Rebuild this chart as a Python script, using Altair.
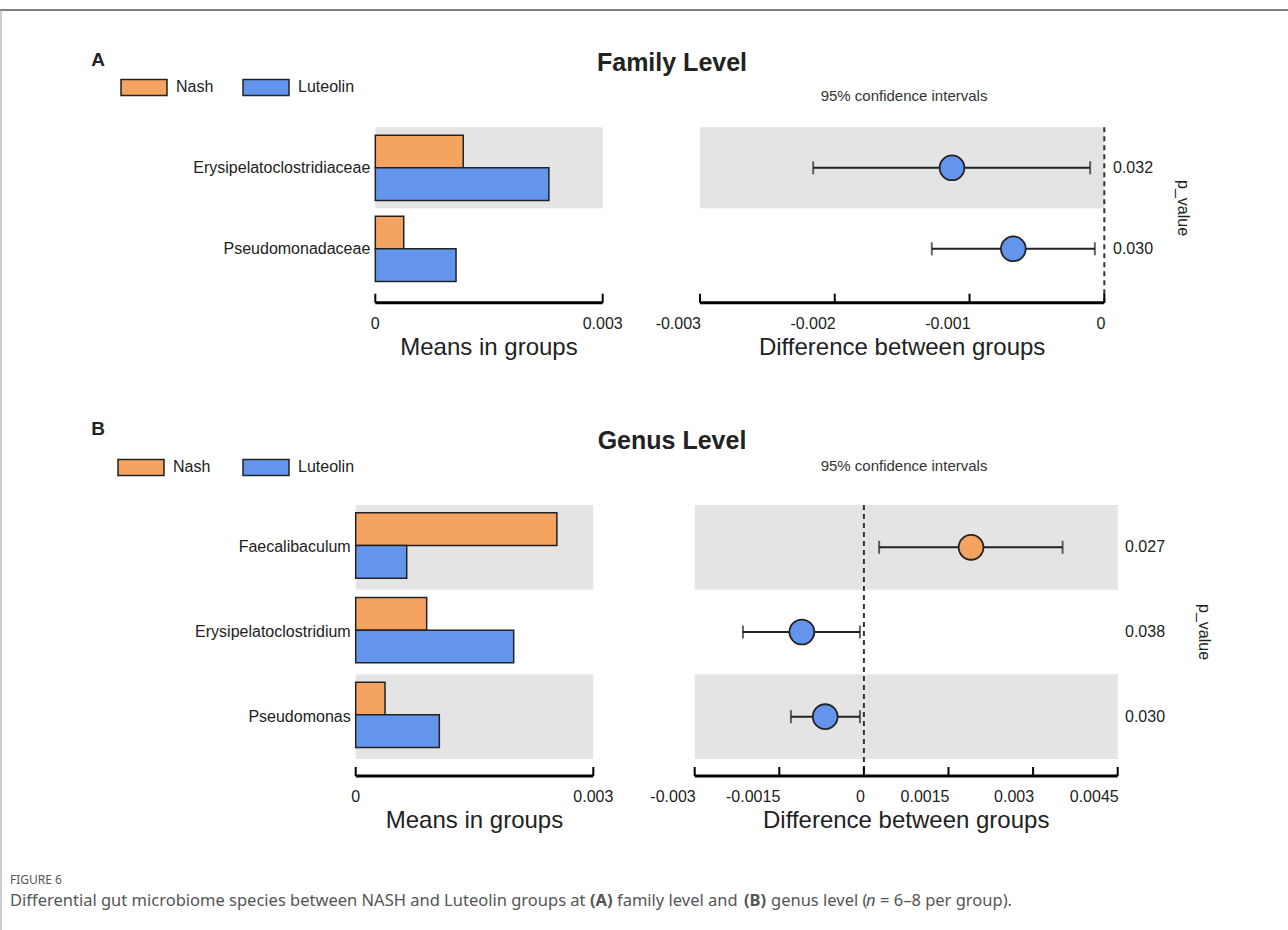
import altair as alt
import pandas as pd

# ---------------- data ----------------
GROUPS = ["Nash", "Luteolin"]
GROUP_COLORS = ["#F4A460", "#6495ED"]

# Family level
FAMILY_TAXA = ["Erysipelatoclostridiaceae", "Pseudomonadaceae"]
FAMILY_NASH = [0.00116, 0.000375]
FAMILY_LUTEOLIN = [0.00229, 0.001065]
FAMILY_DIFF = [-0.00113, -0.000675]
FAMILY_CI_LOW = [-0.00216, -0.00128]
FAMILY_CI_HIGH = [-0.000105, -0.00007]
FAMILY_P = ["0.032", "0.030"]
FAMILY_MEAN_TICKS = [0, 0.003]
FAMILY_DIFF_TICKS = [-0.003, -0.002, -0.001, 0]

# Genus level
GENUS_TAXA = ["Faecalibaculum", "Erysipelatoclostridium", "Pseudomonas"]
GENUS_NASH = [0.00254, 0.000896, 0.00037]
GENUS_LUTEOLIN = [0.000644, 0.001995, 0.001056]
GENUS_DIFF = [0.0019, -0.0011, -0.000686]
GENUS_CI_LOW = [0.00027, -0.002145, -0.001294]
GENUS_CI_HIGH = [0.003523, -0.00007, -0.00007]
GENUS_P = ["0.027", "0.038", "0.030"]
GENUS_MEAN_TICKS = [0, 0.003]
GENUS_DIFF_TICKS = [-0.003, -0.0015, 0, 0.0015, 0.003, 0.0045]

# ---------------- style / layout ----------------
W, H = 1288, 930
FONT = "Liberation Sans"
CAPTION_FONT = "Noto Sans"
INK = "#222222"
CAPTION_INK = "#555555"
BAND = "#e4e4e4"
RECT_PATH = "M-1,-0.348L1,-0.348L1,0.348L-1,0.348Z"

LAYOUT_A = dict(top=127.3, bottom=289.3, mx0=375.3, mx1=602.7, dx0=700.0, dx1=1104.3,
                axis_y=302.7, p_x=1113, pv_x=1183, pv_y=208, leg_x=120, leg_y=63, col_pad=26)
LAYOUT_B = dict(top=505.0, bottom=759.0, mx0=355.7, mx1=593.3, dx0=694.7, dx1=1117.7,
                axis_y=776.0, p_x=1125, pv_x=1204, pv_y=632, leg_x=117, leg_y=443, col_pad=29)


def fmt(v):
    return "%g" % v


def means_frame(taxa, nash, lut):
    rows = []
    for t, a, b in zip(taxa, nash, lut):
        rows.append({"taxon": t, "group": GROUPS[0], "mean": a})
        rows.append({"taxon": t, "group": GROUPS[1], "mean": b})
    return pd.DataFrame(rows)


def diff_frame(taxa, diff, lo, hi, p):
    return pd.DataFrame({
        "taxon": taxa, "diff": diff, "lo": lo, "hi": hi, "p": p,
        "higher": [GROUPS[0] if d > 0 else GROUPS[1] for d in diff],
        "shade": [i % 2 == 0 for i in range(len(taxa))],
    })


def note(text, x, y, size, weight="normal", align="center", angle=0, color=INK,
         style="normal", font=FONT):
    kw = dict(align=align, baseline="middle", fontSize=size, fontWeight=weight,
              color=color, font=font)
    if angle:
        kw["angle"] = angle
    if style != "normal":
        kw["fontStyle"] = style
    return alt.Chart(pd.DataFrame({"label": [text]})).mark_text(**kw).encode(
        x=alt.value(x), y=alt.value(y), text="label:N"
    )


def scale_axis(ticks, scale, axis_y, align, title, x_mid):
    """Bracket-style axis: thick baseline, inward ticks, labels and a title."""
    line = alt.Chart(pd.DataFrame({"lo": [ticks[0]], "hi": [ticks[-1]]})).mark_rule(
        color="black", strokeWidth=3
    ).encode(
        x=alt.X("lo:Q", scale=scale, axis=None), x2="hi:Q", y=alt.value(axis_y)
    )
    tick_df = pd.DataFrame({"tick": ticks, "label": [fmt(t) for t in ticks]})
    marks = alt.Chart(tick_df).mark_rule(color="black", strokeWidth=2).encode(
        x=alt.X("tick:Q", scale=scale, axis=None),
        y=alt.value(axis_y - 9), y2=alt.value(axis_y),
    )
    labels = alt.Chart(tick_df).mark_text(
        align=align, baseline="middle", fontSize=16, color=INK, font=FONT,
        dx=1 if align == "right" else 0,
    ).encode(
        x=alt.X("tick:Q", scale=scale, axis=None), y=alt.value(axis_y + 21), text="label:N"
    )
    name = note(title, x_mid, axis_y + 45, 24)
    return [line, marks, labels, name]


def panel(taxa, nash, lut, diff, lo, hi, pvals, mean_ticks, diff_ticks, L):
    means = means_frame(taxa, nash, lut)
    d = diff_frame(taxa, diff, lo, hi, pvals)
    shaded = d[d["shade"]]

    yscale = alt.Scale(domain=taxa, range=[L["top"], L["bottom"]], paddingInner=0, paddingOuter=0)
    cscale = alt.Scale(domain=GROUPS, range=GROUP_COLORS)
    mscale = alt.Scale(domain=[mean_ticks[0], mean_ticks[-1]], range=[L["mx0"], L["mx1"]],
                       nice=False, zero=False)
    dscale = alt.Scale(domain=[diff_ticks[0], diff_ticks[-1]], range=[L["dx0"], L["dx1"]],
                       nice=False, zero=False)
    y_plain = alt.Y("taxon:N", scale=yscale, axis=None)

    # ---- means in groups ----
    m_band = alt.Chart(shaded).mark_rect(color=BAND).encode(
        x=alt.XDatum(mean_ticks[0], scale=mscale, axis=None),
        x2=alt.X2Datum(mean_ticks[-1]),
        y=y_plain,
    )
    bars = alt.Chart(means).mark_bar(stroke=INK, strokeWidth=1.5, opacity=1).encode(
        x=alt.X("mean:Q", scale=mscale, axis=None),
        y=y_plain,
        yOffset=alt.YOffset("group:N", sort=GROUPS,
                            scale=alt.Scale(domain=GROUPS, paddingInner=0, paddingOuter=0.24)),
        color=alt.Color("group:N", scale=cscale, legend=alt.Legend(
            title=None, orient="none", legendX=L["leg_x"], legendY=L["leg_y"],
            direction="horizontal", columns=2, symbolType=RECT_PATH, symbolSize=2116,
            symbolStrokeColor=INK, symbolStrokeWidth=1.5, symbolOpacity=1,
            labelFontSize=16, labelColor=INK, labelOffset=8, labelFont=FONT,
            columnPadding=L["col_pad"], padding=0)),
    )
    taxon_labels = alt.Chart(d).mark_text(
        align="right", baseline="middle", fontSize=16, color=INK, font=FONT
    ).encode(x=alt.value(L["mx0"] - 5), y=y_plain, text="taxon:N")
    m_axis = scale_axis(mean_ticks, mscale, L["axis_y"], "center", "Means in groups",
                        (L["mx0"] + L["mx1"]) / 2)
    means_chart = alt.layer(m_band, bars, taxon_labels, *m_axis)

    # ---- difference between groups ----
    d_band = alt.Chart(shaded).mark_rect(color=BAND).encode(
        x=alt.XDatum(diff_ticks[0], scale=dscale, axis=None),
        x2=alt.X2Datum(diff_ticks[-1]),
        y=y_plain,
    )
    zero = alt.Chart(pd.DataFrame({"z": [0.0]})).mark_rule(
        color="#333333", strokeWidth=2, strokeDash=[5, 4]
    ).encode(
        x=alt.X("z:Q", scale=dscale, axis=None),
        y=alt.value(L["top"]), y2=alt.value(L["axis_y"]),
    )
    whisker = alt.Chart(d).mark_rule(color=INK, strokeWidth=2).encode(
        x=alt.X("lo:Q", scale=dscale, axis=None), x2="hi:Q", y=y_plain,
    )
    cap_lo = alt.Chart(d).mark_tick(color=INK, size=13, thickness=2, orient="vertical").encode(
        x=alt.X("lo:Q", scale=dscale, axis=None), y=y_plain,
    )
    cap_hi = alt.Chart(d).mark_tick(color=INK, size=13, thickness=2, orient="vertical").encode(
        x=alt.X("hi:Q", scale=dscale, axis=None), y=y_plain,
    )
    dots = alt.Chart(d).mark_circle(size=616, opacity=1, stroke=INK, strokeWidth=1.8).encode(
        x=alt.X("diff:Q", scale=dscale, axis=None),
        y=y_plain,
        color=alt.Color("higher:N", scale=cscale, legend=None),
    )
    pv = alt.Chart(d).mark_text(align="left", baseline="middle", fontSize=16, color=INK,
                                font=FONT).encode(
        x=alt.value(L["p_x"]), y=y_plain, text="p:N",
    )
    d_axis = scale_axis(diff_ticks, dscale, L["axis_y"], "right", "Difference between groups",
                        (L["dx0"] + L["dx1"]) / 2)
    diff_chart = alt.layer(d_band, zero, whisker, cap_lo, cap_hi, dots, pv, *d_axis)

    return alt.layer(means_chart, diff_chart).resolve_scale(x="independent")


panel_a = panel(FAMILY_TAXA, FAMILY_NASH, FAMILY_LUTEOLIN, FAMILY_DIFF, FAMILY_CI_LOW,
                FAMILY_CI_HIGH, FAMILY_P, FAMILY_MEAN_TICKS, FAMILY_DIFF_TICKS, LAYOUT_A)
panel_b = panel(GENUS_TAXA, GENUS_NASH, GENUS_LUTEOLIN, GENUS_DIFF, GENUS_CI_LOW,
                GENUS_CI_HIGH, GENUS_P, GENUS_MEAN_TICKS, GENUS_DIFF_TICKS, LAYOUT_B)

# figure frame
frame_top = alt.Chart(pd.DataFrame({"k": [0]})).mark_rule(color="#555555", strokeWidth=1.5).encode(
    x=alt.value(0), x2=alt.value(W), y=alt.value(10)
)
frame_left = alt.Chart(pd.DataFrame({"k": [0]})).mark_rule(color="#9a9a9a", strokeWidth=1).encode(
    x=alt.value(1), y=alt.value(10), y2=alt.value(H)
)

cap = dict(align="left", color=CAPTION_INK, font=CAPTION_FONT)
texts = [
    note("A", 98, 60, 19, weight="bold"),
    note("Family Level", 672, 63, 25, weight="bold"),
    note("95% confidence intervals", 904, 96, 15, color="#333333"),
    note("p_value", LAYOUT_A["pv_x"], LAYOUT_A["pv_y"], 16, angle=90),
    note("B", 98, 429, 19, weight="bold"),
    note("Genus Level", 672, 441, 25, weight="bold"),
    note("95% confidence intervals", 904, 466, 15, color="#333333"),
    note("p_value", LAYOUT_B["pv_x"], LAYOUT_B["pv_y"], 16, angle=90),
    note("FIGURE 6", 10, 880, 12, **cap),
    note("Differential gut microbiome species between NASH and Luteolin groups at", 10, 901, 16.5, **cap),
    note("(A)", 590, 901, 16.5, weight="bold", **cap),
    note("family level and", 617, 901, 16.5, **cap),
    note("(B)", 744, 901, 16.5, weight="bold", **cap),
    note("genus level (", 771, 901, 16.5, **cap),
    note("n", 866, 901, 16.5, style="italic", **cap),
    note("= 6–8 per group).", 880, 901, 16.5, **cap),
]

chart = alt.layer(frame_top, frame_left, panel_a, panel_b, *texts).resolve_scale(
    x="independent", y="independent", color="independent"
).properties(
    width=W, height=H, autosize=alt.AutoSizeParams(type="none"), padding=0,
    background="white",
).configure(font=FONT).configure_view(strokeWidth=0)

chart.save("out.html", embed_options={"renderer": "svg", "actions": False})
